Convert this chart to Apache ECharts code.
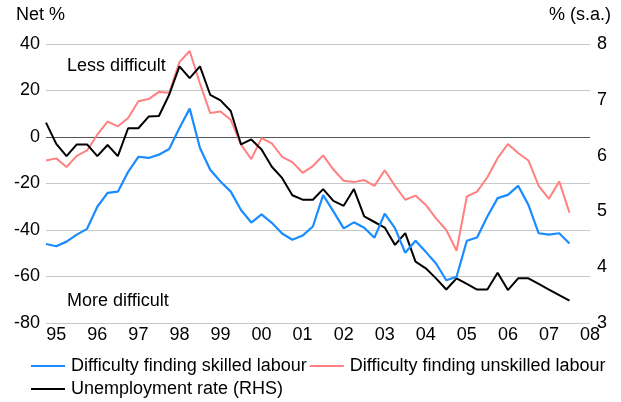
<!DOCTYPE html>
<html>
<head>
<meta charset="utf-8">
<script src="https://cdn.jsdelivr.net/npm/echarts@6/dist/echarts.min.js"></script>
<style>
  html, body { margin: 0; padding: 0; background: #fff; }
  #chart { width: 621px; height: 402px; }
</style>
</head>
<body>
<div id="chart"></div>
<script>
// Quarterly periods, 1994Q4 to 2008Q1 (the axis runs to the start of 2008)
const quarters = [
  '1994Q4',
  '1995Q1','1995Q2','1995Q3','1995Q4','1996Q1','1996Q2','1996Q3','1996Q4',
  '1997Q1','1997Q2','1997Q3','1997Q4','1998Q1','1998Q2','1998Q3','1998Q4',
  '1999Q1','1999Q2','1999Q3','1999Q4','2000Q1','2000Q2','2000Q3','2000Q4',
  '2001Q1','2001Q2','2001Q3','2001Q4','2002Q1','2002Q2','2002Q3','2002Q4',
  '2003Q1','2003Q2','2003Q3','2003Q4','2004Q1','2004Q2','2004Q3','2004Q4',
  '2005Q1','2005Q2','2005Q3','2005Q4','2006Q1','2006Q2','2006Q3','2006Q4',
  '2007Q1','2007Q2','2007Q3','2007Q4','2008Q1'
];

// Net % of firms reporting difficulty finding skilled labour
const skilled = [
  -46, -47, -45, -42, -39.5, -30, -24, -23.5, -15, -8.5, -9, -7.6, -5.2,
  3.9, 12.2, -4.7, -14.1, -19.1, -23.5, -31.4, -36.8, -33.3, -36.9, -41.5,
  -44.2, -42.4, -38.5, -25, -32, -39.3, -36.7, -39, -43.3, -33, -39.2,
  -49.8, -44.6, -49.4, -54.4, -61.6, -60.1, -44.6, -43.2, -34.2, -26.3,
  -24.9, -21, -29.2, -41.4, -42, -41.4, -45.8
];

// Net % of firms reporting difficulty finding unskilled labour
const unskilled = [
  -10.1, -9.2, -12.9, -8.1, -5.8, 1.0, 6.6, 4.6, 8.2, 15.4, 16.3, 19.4, 19.0,
  32.2, 37, 23, 10.3, 11, 7.4, -3.3, -9.5, -0.5, -2.7, -8.5, -10.8, -15.4,
  -12.5, -7.9, -14, -18.8, -19.4, -18.5, -21, -14.3, -21, -27, -25.2, -29.2,
  -35, -40, -48.9, -25.6, -23.5, -17.3, -9.1, -3.0, -6.9, -10.1, -21.0,
  -26.6, -19.1, -32.5
];

// Unemployment rate, % seasonally adjusted (right-hand scale)
const unemployment = [
  6.59, 6.21, 5.99, 6.20, 6.20, 5.99, 6.19, 5.99, 6.49, 6.49, 6.70, 6.71,
  7.09, 7.60, 7.39, 7.60, 7.09, 6.99, 6.80, 6.20, 6.29, 6.11, 5.80, 5.60,
  5.29, 5.21, 5.21, 5.40, 5.19, 5.10, 5.40, 4.91, 4.81, 4.71, 4.40, 4.61,
  4.10, 3.98, 3.80, 3.60, 3.80, 3.70, 3.60, 3.60, 3.90, 3.59, 3.80, 3.80,
  3.70, 3.60, 3.50, 3.40
];

const seriesNames = [
  'Difficulty finding skilled labour',
  'Difficulty finding unskilled labour',
  'Unemployment rate (RHS)'
];

const FONT = "'Liberation Sans', Arial, sans-serif";
const BLUE = '#1a8cff';
const PINK = '#ff8080';
const BLACK = '#000000';

const chart = echarts.init(document.getElementById('chart'), null, { renderer: 'canvas' });

chart.setOption({
  animation: false,
  backgroundColor: '#ffffff',
  textStyle: { fontFamily: FONT, color: '#000' },
  grid: { left: 46, right: 31, top: 44, bottom: 79, containLabel: false },
  xAxis: {
    type: 'category',
    data: quarters,
    boundaryGap: false,
    axisLine: { show: false },
    axisTick: { show: false },
    splitLine: { show: false },
    axisLabel: {
      interval: (idx, val) => val.endsWith('Q1'),
      formatter: (val) => val.slice(2, 4),
      fontSize: 18,
      color: '#000',
      fontFamily: FONT,
      margin: 3
    }
  },
  yAxis: [
    {
      type: 'value',
      min: -80, max: 40, interval: 20,
      axisLine: { show: false },
      axisTick: { show: false },
      splitLine: { show: true, lineStyle: { color: '#c8c8c8', width: 1 } },
      axisLabel: { fontSize: 18, color: '#000', fontFamily: FONT, margin: 6 }
    },
    {
      type: 'value',
      min: 3, max: 8, interval: 1,
      position: 'right',
      axisLine: { show: false },
      axisTick: { show: false },
      splitLine: { show: false },
      axisLabel: { fontSize: 18, color: '#000', fontFamily: FONT, margin: 7 }
    }
  ],
  legend: [
    {
      data: [seriesNames[0], seriesNames[1]],
      left: 26, top: 352,
      orient: 'horizontal',
      icon: 'rect', itemWidth: 34, itemHeight: 2, itemGap: 3,
      textStyle: { fontSize: 18, color: '#000', fontFamily: FONT, padding: [0, 0, 0, 1] },
      selectedMode: false
    },
    {
      data: [seriesNames[2]],
      left: 26, top: 375,
      icon: 'rect', itemWidth: 34, itemHeight: 2,
      textStyle: { fontSize: 18, color: '#000', fontFamily: FONT, padding: [0, 0, 0, 1] },
      selectedMode: false
    }
  ],
  graphic: [
    { type: 'text', left: 16, top: 6, style: { text: 'Net %', fontSize: 18, fontFamily: FONT, fill: '#000' } },
    { type: 'text', right: 10, top: 6, style: { text: '% (s.a.)', fontSize: 18, fontFamily: FONT, fill: '#000' } },
    { type: 'text', left: 67, top: 57, style: { text: 'Less difficult', fontSize: 18, fontFamily: FONT, fill: '#000' } },
    { type: 'text', left: 67, top: 292, style: { text: 'More difficult', fontSize: 18, fontFamily: FONT, fill: '#000' } }
  ],
  series: [
    {
      name: seriesNames[2],
      type: 'line',
      yAxisIndex: 1,
      data: unemployment,
      showSymbol: false,
      lineStyle: { color: BLACK, width: 2 },
      itemStyle: { color: BLACK },
      z: 3
    },
    {
      name: seriesNames[1],
      type: 'line',
      yAxisIndex: 0,
      data: unskilled,
      showSymbol: false,
      lineStyle: { color: PINK, width: 2 },
      itemStyle: { color: PINK },
      z: 2
    },
    {
      name: seriesNames[0],
      type: 'line',
      yAxisIndex: 0,
      data: skilled,
      showSymbol: false,
      lineStyle: { color: BLUE, width: 2.2 },
      itemStyle: { color: BLUE },
      z: 4,
      markLine: {
        silent: true,
        symbol: 'none',
        label: { show: false },
        lineStyle: { color: '#555555', width: 1, type: 'solid' },
        data: [{ yAxis: 0 }],
        z: 1
      }
    }
  ]
});
</script>
</body>
</html>
